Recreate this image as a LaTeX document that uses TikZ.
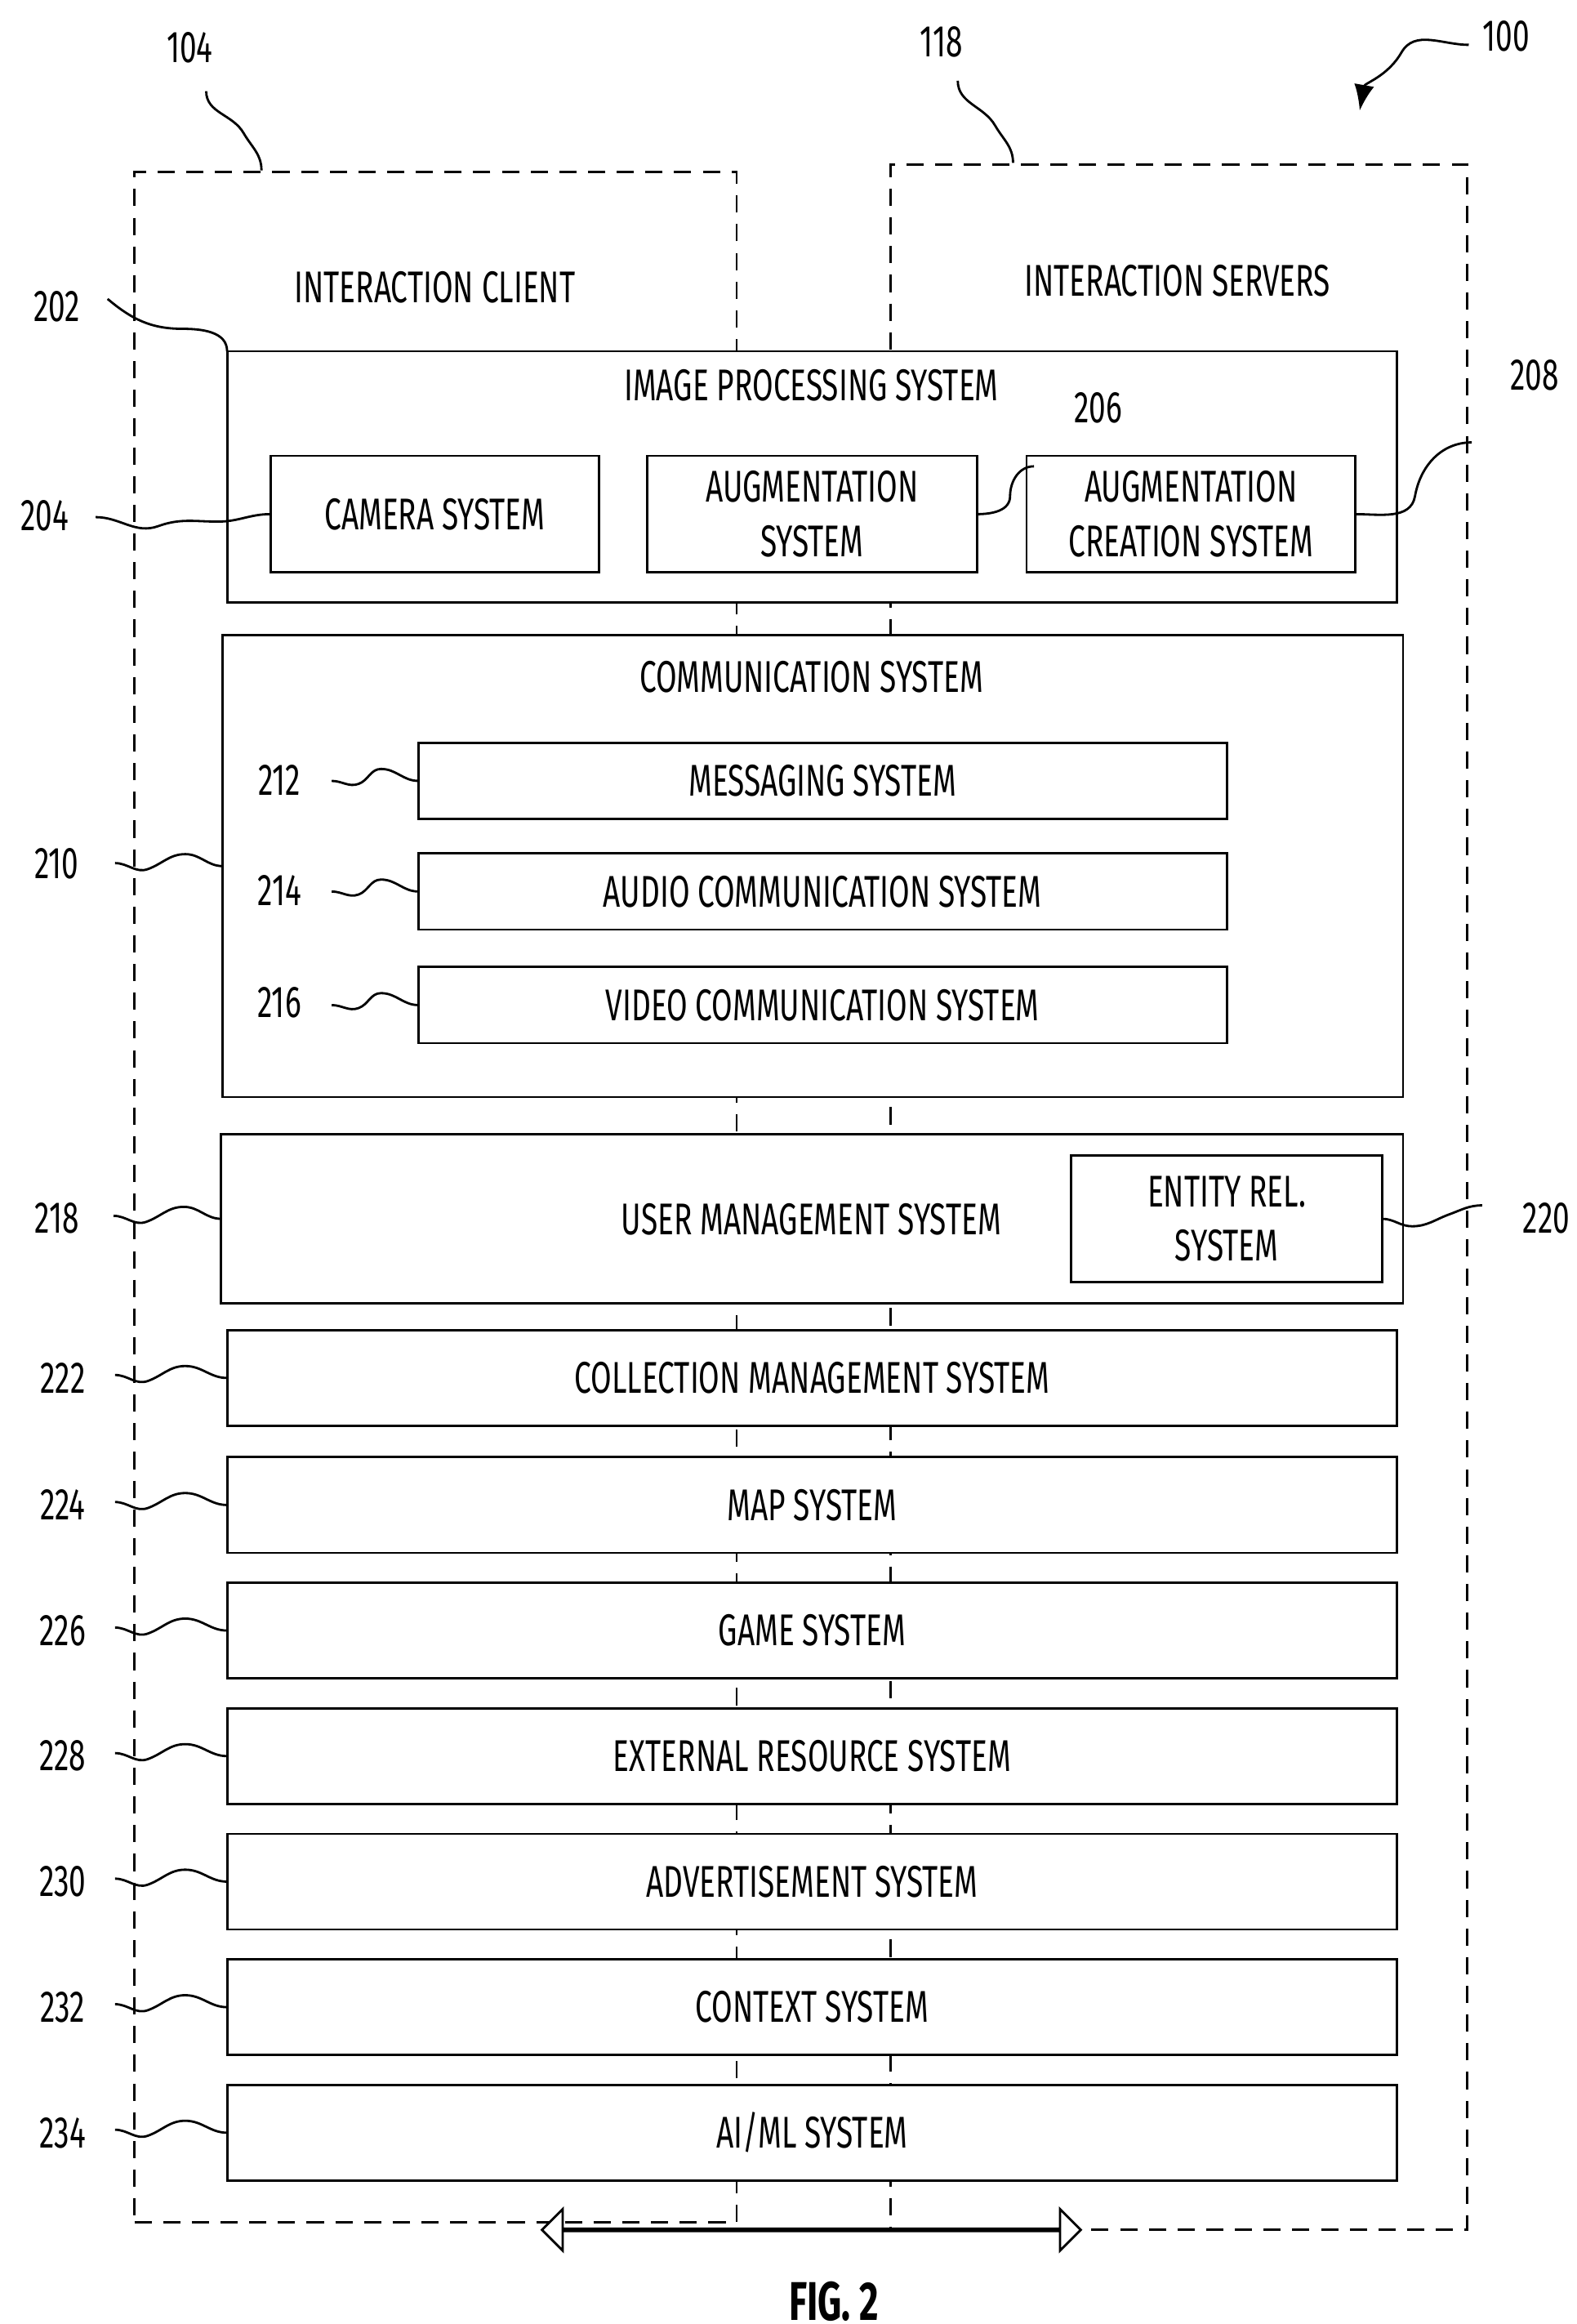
\documentclass[tikz,border=0pt]{standalone}
\usepackage{fontspec}
\setmainfont{Fira Sans}[FakeStretch=0.68]
\usetikzlibrary{fit,shapes.arrows,arrows.meta}
\begin{document}
\begin{tikzpicture}[
    x = 0.183mm, y = -0.183mm,
    font = \fontsize{15.5}{19}\selectfont,
    every node/.style = {inner sep = 0mm, outer sep = 0mm},
    box/.style = {draw = black, thick, fill = white, inner sep = 0mm},
    zone/.style = {draw = black, thick, dashed, dash pattern = on 6pt off 4pt},
    lead/.style = {thick},
  ]
  \useasboundingbox (0,0) rectangle (1055,1555);

  % dashed zones
  \node[zone, fit = {(90,115)(493,1487)}] (client) {};
  \node[zone, fit = {(596,110)(982,1492)}] (server) {};
  \node at (291,192) (clientT) {INTERACTION CLIENT};
  \node at (788,188) (serverT) {INTERACTION SERVERS};

  \node at (127,32) (n104) {104};
  \node at (630,28) (n118) {118};
  \node at (1008,24) (n100) {100};
  \coordinate (c104) at (175,114);
  \coordinate (c118) at (678,109);
  \coordinate (a100) at (910,74);
  \draw[lead] (c104) to[out=90,in=-60] ++(-12,-25) to[out=120,in=-90] ++(-25,-28);
  \draw[lead] (c118) to[out=90,in=-60] ++(-12,-25) to[out=120,in=-90] ++(-25,-30);
  \draw[lead, -{Latex[length=9pt,width=7pt]}] (983,30) to[out=180,in=60] ++(-45,5) to[out=240,in=80] (a100);

  % image processing
  \node[box, fit = {(152,235)(935,403)}] (ips) {};
  \node at (543,258) {IMAGE PROCESSING SYSTEM};
  \node[box, fit = {(181,305)(401,383)}] (cam) {};
  \node at (cam.center) {CAMERA SYSTEM};
  \node[box, fit = {(433,305)(654,383)}] (aug) {};
  \node[align = center] at (aug.center) {AUGMENTATION\\SYSTEM};
  \node[box, fit = {(687,305)(907,383)}] (augc) {};
  \node[align = center] at (augc.center) {AUGMENTATION\\CREATION SYSTEM};

  % communication
  \node[box, fit = {(149,425)(939,734)}] (comm) {};
  \node at (543,453) {COMMUNICATION SYSTEM};
  \node[box, fit = {(280,497)(821,548)}] (msg) {};
  \node at (msg.center) {MESSAGING SYSTEM};
  \node[box, fit = {(280,571)(821,622)}] (audio) {};
  \node at (audio.center) {AUDIO COMMUNICATION SYSTEM};
  \node[box, fit = {(280,647)(821,698)}] (video) {};
  \node at (video.center) {VIDEO COMMUNICATION SYSTEM};

  % user management
  \node[box, fit = {(148,759)(939,872)}] (user) {};
  \node at (543,816) {USER MANAGEMENT SYSTEM};
  \node[box, fit = {(717,773)(925,858)}] (ent) {};
  \node[align = center] at (ent.center) {ENTITY REL.\\SYSTEM};

  % bars
  \foreach \y/\t/\n in {890/{COLLECTION MANAGEMENT SYSTEM}/222, 975/{MAP SYSTEM}/224,
      1059/{GAME SYSTEM}/226, 1143/{EXTERNAL RESOURCE SYSTEM}/228,
      1227/{ADVERTISEMENT SYSTEM}/230, 1311/{CONTEXT SYSTEM}/232, 1395/{AI/ML SYSTEM}/234} {
    \node[box, fit = {(152,\y)(935,\y+64)}] (b\n) {};
    \node at (b\n.center) {\t};
    \node at (42,\y+32) (l\n) {\n};
    \draw[lead] (b\n.west) to[out=180,in=0] ++(-28,-8) to[out=180,in=20] ++(-25,10)
      to[out=200,in=0] ++(-22,-4);
  }

  % leaders
  \node at (38,205) (l202) {202};
  \draw[lead] (ips.north west) to[out=90,in=0] ++(-30,-15) to[out=180,in=-40] ++(-50,-20);
  \node at (30,345) (l204) {204};
  \draw[lead] (cam.west) to[out=180,in=0] ++(-35,5) to[out=180,in=20] ++(-40,3)
    to[out=200,in=0] ++(-42,-6);
  \node at (735,273) (l206) {206};
  \draw[lead] (aug.east) to[out=0,in=-90] ++(22,-12) to[out=90,in=180] ++(16,-20);
  \node at (1027,251) (l208) {208};
  \draw[lead] (augc.east) to[out=0,in=-100] ++(40,-12) to[out=80,in=180] ++(38,-36);
  \node at (38,578) (l210) {210};
  \draw[lead] (comm.west) to[out=180,in=0] ++(-25,-8) to[out=180,in=20] ++(-25,10)
    to[out=200,in=0] ++(-22,-4);
  \node at (187,522) (l212) {212};
  \draw[lead] (msg.west) to[out=180,in=0] ++(-25,-8) to[out=180,in=20] ++(-15,10)
    to[out=200,in=0] ++(-18,-2);
  \node at (187,596) (l214) {214};
  \draw[lead] (audio.west) to[out=180,in=0] ++(-25,-8) to[out=180,in=20] ++(-15,10)
    to[out=200,in=0] ++(-18,-2);
  \node at (187,671) (l216) {216};
  \draw[lead] (video.west) to[out=180,in=0] ++(-25,-8) to[out=180,in=20] ++(-15,10)
    to[out=200,in=0] ++(-18,-2);
  \node at (38,815) (l218) {218};
  \draw[lead] (user.west) to[out=180,in=0] ++(-25,-8) to[out=180,in=20] ++(-25,10)
    to[out=200,in=0] ++(-22,-4);
  \node at (1035,815) (l220) {220};
  \draw[lead] (ent.east) to[out=0,in=180] ++(20,5) to[out=0,in=200] ++(25,-8)
    to[out=20,in=180] ++(22,-6);

  % bus arrow
  \node[draw = black, thick, fill = white, double arrow, double arrow head extend = 2.4mm,
    minimum height = 66mm, minimum width = 5.1mm] (bus) at (543,1492) {};

  \node[font = \fontsize{19}{22}\selectfont\bfseries] at (558,1540) (fig) {FIG. 2};
\end{tikzpicture}
\end{document}
